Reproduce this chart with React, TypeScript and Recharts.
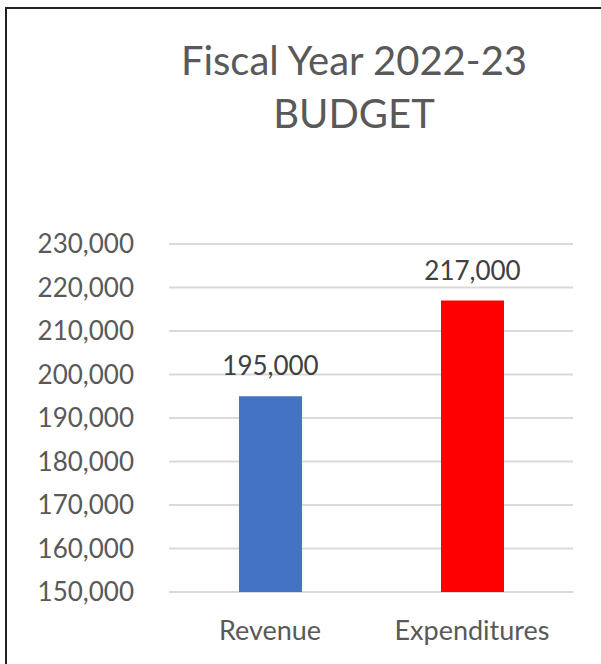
import { BarChart, Bar, XAxis, YAxis, CartesianGrid, LabelList, Cell } from 'recharts';

const categories = ['Revenue', 'Expenditures'];
const budget = [195000, 217000];
const barColors = ['#4472c4', '#ff0000'];
const yTicks = [150000, 160000, 170000, 180000, 190000, 200000, 210000, 220000, 230000];

const data = categories.map((name, i) => ({ name, value: budget[i] }));

const fmt = (v: number) => v.toLocaleString('en-US');

export default function App() {
  return (
    <div
      style={{
        position: 'absolute',
        left: 0,
        top: 0,
        width: 601,
        height: 664,
        background: '#fff',
        overflow: 'hidden',
        fontFamily: 'Lato, sans-serif',
      }}
    >
      <div
        style={{
          position: 'absolute',
          left: 5,
          top: 7,
          width: 700,
          height: 700,
          borderLeft: '2px solid #222',
          borderTop: '2px solid #222',
        }}
      />
      <div
        style={{
          position: 'absolute',
          left: 104,
          width: 500,
          top: 34,
          textAlign: 'center',
          color: '#595959',
          fontSize: 40,
          lineHeight: '53px',
        }}
      >
        Fiscal Year 2022-23
        <br />
        BUDGET
      </div>
      <div style={{ position: 'absolute', left: 0, top: 0 }}>
        <BarChart width={601} height={664} data={data} margin={{ top: 244, right: 28, bottom: 0, left: 0 }}>
          <CartesianGrid vertical={false} stroke="#d9d9d9" strokeWidth={2} />
          <XAxis
            dataKey="name"
            height={72}
            axisLine={false}
            tickLine={false}
            tickMargin={23}
            tick={{ fill: '#595959', fontSize: 27 }}
          />
          <YAxis
            width={169}
            domain={[150000, 230000]}
            ticks={yTicks}
            axisLine={false}
            tickLine={false}
            tickMargin={29}
            tickFormatter={fmt}
            tick={{ fill: '#595959', fontSize: 26 }}
          />
          <Bar dataKey="value" barSize={63} isAnimationActive={false}>
            {data.map((d, i) => (
              <Cell key={d.name} fill={barColors[i]} />
            ))}
            <LabelList dataKey="value" position="top" offset={21} formatter={fmt} fill="#404040" fontSize={26} />
          </Bar>
        </BarChart>
      </div>
    </div>
  );
}
